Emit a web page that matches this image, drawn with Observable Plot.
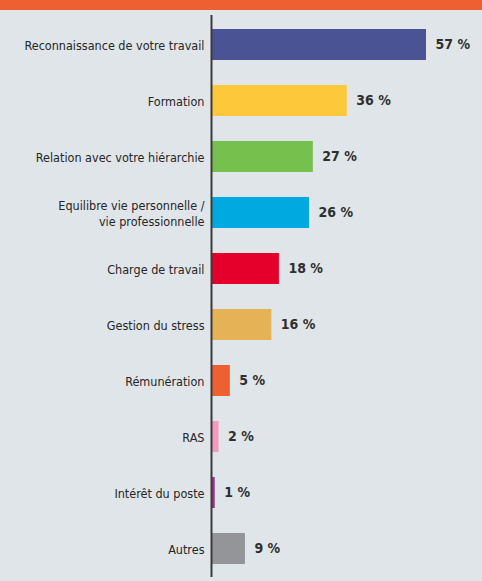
<!DOCTYPE html>
<html>
<head>
<meta charset="utf-8">
<script src="https://cdn.jsdelivr.net/npm/d3@7"></script>
<script src="https://cdn.jsdelivr.net/npm/@observablehq/plot@0.6"></script>
<style>
  html, body { margin: 0; padding: 0; background: #e0e5e9; }
  #header { height: 10px; background: #ee6031; }
  #chart svg { display: block; background: #e0e5e9; }
</style>
</head>
<body>
<div id="header"></div>
<div id="chart"></div>
<script>
const categories = [
  "Reconnaissance de votre travail",
  "Formation",
  "Relation avec votre hiérarchie",
  "Equilibre vie personnelle /\nvie professionnelle",
  "Charge de travail",
  "Gestion du stress",
  "Rémunération",
  "RAS",
  "Intérêt du poste",
  "Autres"
];
const values = [57, 36, 27, 26, 18, 16, 5, 2, 1, 9];
const colors = ["#4a5494", "#fdc93a", "#76c04e", "#00a9e0", "#e4002b", "#e5b255", "#ee6031", "#f49ac1", "#a0348d", "#939598"];

const data = categories.map((c, i) => ({category: c, value: values[i], color: colors[i]}));
const font = "'Liberation Sans Narrow', 'DejaVu Sans Condensed', sans-serif";

const chart = Plot.plot({
  width: 482,
  height: 571,
  marginLeft: 211,
  marginRight: 56,
  marginTop: 5,
  marginBottom: 4,
  style: {background: "#e0e5e9", fontFamily: font, color: "#333"},
  x: {domain: [0, 57], axis: null},
  y: {domain: categories, paddingInner: 0.45, paddingOuter: 0.2, label: null},
  marks: [
    Plot.barX(data, {x: "value", y: "category", fill: "color"}),
    Plot.ruleX([0], {stroke: "#3a3a3a", strokeWidth: 2}),
    Plot.axisY({tickSize: 0, tickPadding: 7, fontSize: 12.5, label: null, fill: "#262626", lineHeight: 1.3}),
    Plot.text(data, {x: "value", y: "category", text: d => `${d.value} %`, textAnchor: "start", dx: 9, fontSize: 14, fontWeight: "bold", fill: "#2f2f2f"})
  ]
});
document.getElementById("chart").appendChild(chart);
</script>
</body>
</html>
